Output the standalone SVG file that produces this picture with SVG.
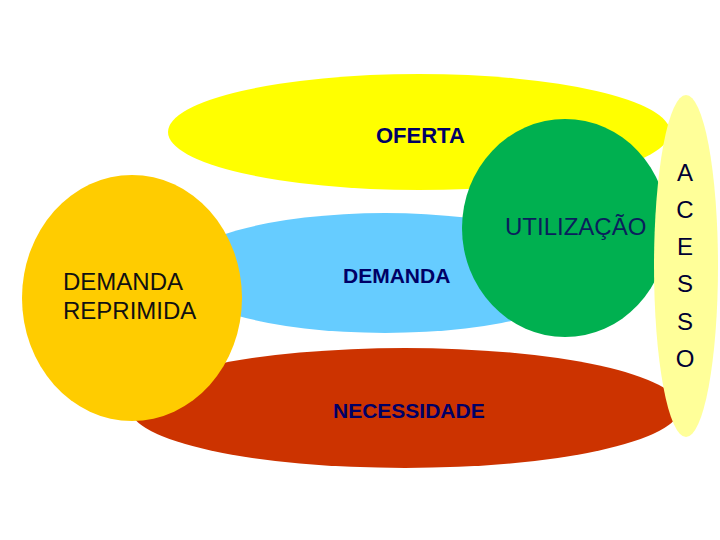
<svg xmlns="http://www.w3.org/2000/svg" width="720" height="540" viewBox="0 0 720 540">
<style>
.lbl{font-family:"Liberation Sans",Arial,sans-serif;fill:#000066}
.b{font-weight:bold;font-size:21px}
.r{font-size:24px}
.ac{font-family:"Liberation Sans",Arial,sans-serif;font-size:24px;fill:#000033;text-anchor:middle}
</style>
<rect width="720" height="540" fill="#ffffff"/>
<g id="oferta">
<ellipse cx="419" cy="132" rx="251" ry="58" fill="#FFFF00"/>
<text class="lbl b" x="376" y="143" style="font-size:22px">OFERTA</text>
</g>
<g id="demanda">
<ellipse cx="385" cy="273" rx="210" ry="60" fill="#66CCFF"/>
<text class="lbl b" x="343" y="283">DEMANDA</text>
</g>
<g id="necessidade">
<ellipse cx="405" cy="408" rx="275" ry="60" fill="#CC3300"/>
<text class="lbl b" x="333" y="418">NECESSIDADE</text>
</g>
<g id="demanda-reprimida">
<ellipse cx="132" cy="298" rx="110" ry="123" fill="#FFCC00"/>
<text class="lbl r" x="63" y="290" style="fill:#111111">DEMANDA</text>
<text class="lbl r" x="63" y="319" style="fill:#111111">REPRIMIDA</text>
</g>
<g id="utilizacao">
<ellipse cx="565" cy="228" rx="103" ry="109" fill="#00B050"/>
<text class="lbl r" x="505" y="235" style="fill:#0A1F5C">UTILIZAÇÃO</text>
</g>
<g id="acesso">
<ellipse cx="686" cy="266" rx="32" ry="171" fill="#FFFF99"/>
<text class="ac" x="685" y="181">A</text>
<text class="ac" x="685" y="218">C</text>
<text class="ac" x="685" y="255">E</text>
<text class="ac" x="685" y="292">S</text>
<text class="ac" x="685" y="330">S</text>
<text class="ac" x="685" y="367">O</text>
</g>
<g id="connectors"></g>
</svg>
